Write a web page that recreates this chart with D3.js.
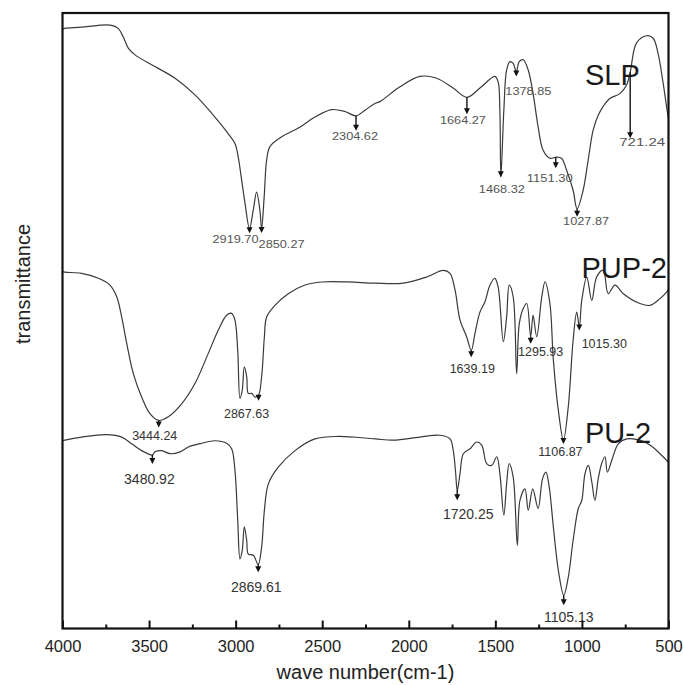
<!DOCTYPE html>
<html>
<head>
<meta charset="utf-8">
<script src="https://cdn.jsdelivr.net/npm/d3@7"></script>
<style>
  body { margin: 0; background: #fff; }
  text { font-family: Arial, "Liberation Sans", sans-serif; }
</style>
</head>
<body>
<div id="chart"></div>
<script>
// FTIR spectra: [wave number, transmittance (a.u.)]
const slpSpectrum = [
  [4000, 97.4], [3986, 97.5], [3889, 97.7], [3793, 98.0], [3716, 98.0], [3678, 97.5],
  [3649, 96.1], [3620, 94.3], [3581, 93.2], [3466, 91.3], [3350, 89.4], [3235, 86.7],
  [3138, 83.7], [3043, 80.4], [3004, 78.8], [2985, 76.6], [2965, 72.8], [2946, 69.1],
  [2920, 65.0], [2898, 68.0], [2879, 70.9], [2860, 68.0], [2850, 65.0], [2835, 70.2],
  [2821, 76.1], [2802, 78.3], [2734, 79.9], [2638, 81.3], [2542, 83.1], [2446, 84.3],
  [2369, 84.0], [2305, 83.3], [2253, 84.2], [2196, 85.3], [2167, 85.6], [2051, 88.0],
  [1936, 89.7], [1839, 89.4], [1744, 87.8], [1664, 86.3], [1589, 87.8], [1503, 89.7],
  [1484, 88.8], [1474, 84.2], [1468, 73.4], [1451, 84.2], [1435, 90.7], [1416, 92.1],
  [1397, 91.8], [1379, 90.5], [1362, 92.1], [1339, 92.4], [1310, 90.7], [1282, 86.9],
  [1253, 81.5], [1224, 77.7], [1185, 76.4], [1147, 76.6], [1118, 76.4], [1089, 74.5],
  [1051, 71.2], [1028, 68.2], [993, 71.2], [964, 76.1], [935, 81.0], [906, 83.4],
  [878, 84.8], [839, 86.1], [781, 86.9], [742, 88.3], [721, 90.4], [685, 95.1],
  [627, 96.3], [589, 95.9], [560, 93.4], [531, 88.6], [508, 84.2], [500, 82.8]
];

const pupSpectrum = [
  [4000, 58.0], [3986, 57.9], [3889, 57.7], [3793, 56.9], [3726, 55.8], [3687, 53.9],
  [3658, 50.6], [3629, 46.3], [3591, 41.4], [3543, 37.6], [3495, 34.9], [3444, 33.8],
  [3389, 34.4], [3312, 36.5], [3235, 39.8], [3158, 44.7], [3100, 48.5], [3052, 50.9],
  [3023, 51.2], [3004, 50.1], [2988, 45.2], [2975, 37.4], [2962, 38.7], [2950, 42.5],
  [2936, 40.9], [2927, 38.2], [2907, 38.2], [2888, 37.6], [2868, 37.9], [2850, 40.9],
  [2834, 47.4], [2821, 50.6], [2773, 52.5], [2696, 54.4], [2599, 55.8], [2503, 56.3],
  [2349, 56.3], [2195, 56.1], [2032, 56.1], [1897, 57.1], [1801, 58.2], [1762, 57.7],
  [1733, 55.0], [1704, 50.1], [1666, 47.4], [1639, 45.2], [1618, 47.9], [1589, 51.4],
  [1560, 53.1], [1531, 55.8], [1503, 56.9], [1484, 55.5], [1454, 46.6], [1435, 50.6],
  [1420, 55.8], [1397, 53.9], [1377, 41.4], [1362, 49.5], [1339, 52.0], [1319, 52.8],
  [1296, 47.4], [1282, 50.9], [1261, 47.4], [1232, 53.9], [1213, 56.3], [1185, 52.8],
  [1165, 43.6], [1136, 35.4], [1107, 30.6], [1079, 36.0], [1051, 46.8], [1030, 51.4],
  [1015, 49.0], [1001, 53.3], [972, 57.1], [943, 53.3], [915, 57.1], [877, 58.2],
  [848, 54.4], [809, 55.8], [761, 54.4], [665, 52.8], [607, 52.5], [549, 53.6],
  [510, 54.7], [500, 55.1]
];

const puSpectrum = [
  [4000, 30.5], [3986, 30.6], [3889, 31.1], [3745, 31.5], [3658, 31.1], [3600, 30.0],
  [3543, 28.9], [3481, 28.2], [3466, 28.7], [3427, 28.9], [3379, 28.4], [3321, 28.7],
  [3273, 29.5], [3196, 30.1], [3119, 30.5], [3052, 30.1], [3023, 29.2], [3004, 25.7],
  [2988, 17.6], [2975, 11.3], [2962, 12.7], [2950, 16.5], [2936, 14.3], [2927, 12.1],
  [2898, 11.9], [2870, 10.4], [2850, 13.2], [2834, 19.2], [2811, 23.5], [2754, 26.2],
  [2657, 28.9], [2542, 30.8], [2407, 31.2], [2195, 30.8], [2089, 30.6], [1936, 31.1],
  [1820, 31.4], [1762, 30.8], [1743, 28.9], [1730, 25.5], [1720, 22.4], [1704, 25.2],
  [1685, 28.4], [1646, 29.2], [1608, 30.3], [1579, 29.8], [1550, 26.8], [1521, 26.5],
  [1492, 27.9], [1474, 25.2], [1451, 18.4], [1435, 23.5], [1420, 26.8], [1397, 24.6],
  [1373, 13.5], [1358, 20.8], [1329, 22.7], [1310, 19.2], [1284, 22.7], [1253, 19.5],
  [1227, 24.4], [1208, 25.4], [1189, 23.0], [1165, 16.5], [1136, 9.4], [1105, 5.4],
  [1079, 8.3], [1051, 14.3], [1021, 19.5], [1001, 20.8], [982, 25.2], [963, 26.5],
  [943, 23.8], [925, 20.8], [906, 24.3], [886, 26.8], [867, 27.9], [853, 25.4],
  [828, 27.3], [790, 30.0], [742, 30.8], [665, 30.6], [607, 29.8], [549, 28.4],
  [510, 27.3], [500, 27.0]
];

const seriesNames = ["SLP", "PUP-2", "PU-2"];

// peak labels (the text is the wave number the arrow points at)
const slpPeaks = ["2919.70", "2850.27", "2304.62", "1664.27", "1468.32", "1378.85", "1151.30", "1027.87", "721.24"];
const pupPeaks = ["3444.24", "2867.63", "1639.19", "1295.93", "1106.87", "1015.30"];
const puPeaks = ["3480.92", "2869.61", "1720.25", "1105.13"];

const xTicks = [4000, 3500, 3000, 2500, 2000, 1500, 1000, 500];
const xMinorTicks = [3750, 3250, 2750, 2250, 1750, 1250, 750];

// arrow length / label offset for each peak label (px)
const peakLayout = {
  "2919.70": [5, -14, 10], "2850.27": [5, 20, 15], "2304.62": [15, -1, 9],
  "1664.27": [17, -4, 10], "1468.32": [4, 1, 16], "1378.85": [5, 12, 19],
  "1151.30": [11, -6, 14], "1027.87": [8, 9, 8], "721.24": [66, 12, 8],
  "3444.24": [7, -4, 13], "2867.63": [6, -12, 17], "1639.19": [7, 1, 16],
  "1295.93": [7, 10, 12.5], "1106.87": [4, -3, 12], "1015.30": [4, 25, 17.5],
  "3480.92": [9, -3, 20], "2869.61": [8, -2, 20], "1720.25": [10, 11, 18.5],
  "1105.13": [10, 5, 17]
};

const width = 683, height = 685;
const plotLeft = 62.5, plotRight = 668.5, plotTop = 13, plotBottom = 628.5;

const svg = d3.select('#chart').append('svg')
  .attr('width', width)
  .attr('height', height)
  .style('display', 'block');

const x = d3.scaleLinear().domain([4000, 500]).range([plotLeft, plotRight]);
const y = d3.scaleLinear().domain([0, 100]).range([plotBottom, plotTop]);

const line = d3.line()
  .x(d => x(d[0]))
  .y(d => y(d[1]))
  .curve(d3.curveCatmullRom.alpha(0.5));

const series = [
  { name: seriesNames[0], data: slpSpectrum, peaks: slpPeaks, nameX: 585, nameY: 85,
    font: 10, fill: '#555', fit: 46 },
  { name: seriesNames[1], data: pupSpectrum, peaks: pupPeaks, nameX: 581.5, nameY: 278,
    font: 12.5, fill: '#333', fit: null },
  { name: seriesNames[2], data: puSpectrum, peaks: puPeaks, nameX: 585, nameY: 443,
    font: 14, fill: '#333', fit: null }
];

// value of a spectrum at a given wave number (linear between read points)
function valueAt(data, w) {
  for (let i = 0; i < data.length - 1; i++) {
    const a = data[i], b = data[i + 1];
    if (w <= a[0] && w >= b[0]) {
      const t = (a[0] - w) / (a[0] - b[0]);
      return a[1] + t * (b[1] - a[1]);
    }
  }
  return data[data.length - 1][1];
}

// spectra
series.forEach(s => {
  svg.append('path')
    .datum(s.data)
    .attr('d', line)
    .attr('fill', 'none')
    .attr('stroke', '#3a3a3a')
    .attr('stroke-width', 1.2);
});

// peak arrows and labels
series.forEach(s => {
  s.peaks.forEach(label => {
    const w = +label;
    const [len, dx, dy] = peakLayout[label];
    const px = x(w);
    const y0 = y(valueAt(s.data, w));
    const tip = y0 + len;
    const g = svg.append('g');
    g.append('line')
      .attr('x1', px).attr('x2', px)
      .attr('y1', y0).attr('y2', tip - 4)
      .attr('stroke', '#111')
      .attr('stroke-width', 1.4);
    g.append('path')
      .attr('d', `M${px - 3},${tip - 6}L${px + 3},${tip - 6}L${px},${tip}Z`)
      .attr('fill', '#111');
    const t = g.append('text')
      .attr('x', px + dx)
      .attr('y', tip + dy)
      .attr('text-anchor', 'middle')
      .style('font-size', s.font + 'px')
      .style('fill', s.fill)
      .text(label);
    if (s.fit) {
      t.attr('textLength', s.fit).attr('lengthAdjust', 'spacingAndGlyphs');
    }
  });
});

// series names
series.forEach(s => {
  svg.append('text')
    .attr('x', s.nameX)
    .attr('y', s.nameY)
    .style('font-size', '29px')
    .style('fill', '#1a1a1a')
    .text(s.name);
});

// axes: ticks point inward
const xAxis = svg.append('g')
  .attr('transform', `translate(0,${plotBottom})`)
  .call(d3.axisBottom(x).tickValues(xTicks).tickSize(-8).tickPadding(12).tickFormat(d3.format('d')));
xAxis.select('.domain').remove();
xAxis.selectAll('.tick line').attr('stroke', '#111').attr('stroke-width', 2);
xAxis.selectAll('.tick text')
  .style('font-size', '16.5px')
  .style('fill', '#222');
xAxis.attr('font-family', null);

const xMinor = svg.append('g')
  .attr('transform', `translate(0,${plotBottom})`)
  .call(d3.axisBottom(x).tickValues(xMinorTicks).tickSize(-4).tickFormat(''));
xMinor.select('.domain').remove();
xMinor.selectAll('.tick line').attr('stroke', '#111').attr('stroke-width', 2);

// frame
svg.append('rect')
  .attr('x', plotLeft)
  .attr('y', plotTop)
  .attr('width', plotRight - plotLeft)
  .attr('height', plotBottom - plotTop)
  .attr('fill', 'none')
  .attr('stroke', '#111')
  .attr('stroke-width', 2.2);

// axis titles
svg.append('text')
  .attr('x', (plotLeft + plotRight) / 2)
  .attr('y', 679)
  .attr('text-anchor', 'middle')
  .style('font-size', '20px')
  .style('fill', '#222')
  .text('wave number(cm-1)');

svg.append('text')
  .attr('transform', 'translate(30,284) rotate(-90)')
  .attr('text-anchor', 'middle')
  .style('font-size', '20px')
  .style('fill', '#222')
  .text('transmittance');
</script>
</body>
</html>
